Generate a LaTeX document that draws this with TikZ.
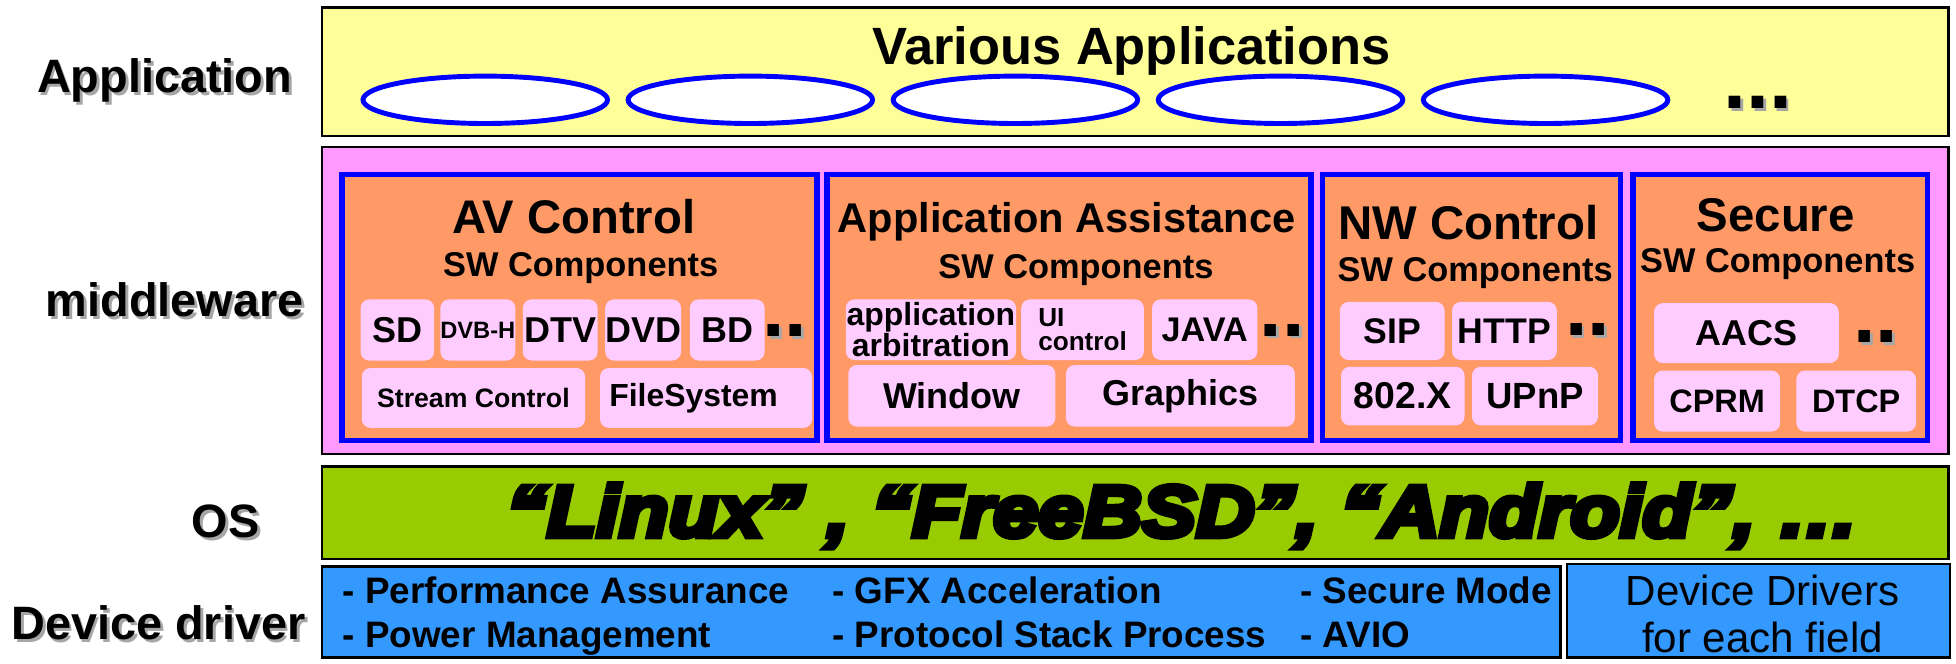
\documentclass[tikz,border=0pt]{standalone}
\usepackage{fontspec}
\setmainfont{Liberation Sans}
\newfontfamily\osfont{Liberation Sans Bold Italic}[FakeBold=8,FakeStretch=1.12]
\usepackage{tikz}
\usetikzlibrary{shapes,positioning}
\definecolor{appyellow}{HTML}{FFFF99}
\definecolor{midpink}{HTML}{FF99FF}
\definecolor{suborange}{HTML}{FF9966}
\definecolor{comppink}{HTML}{FFCCFF}
\definecolor{osgreen}{HTML}{99CC00}
\definecolor{drvblue}{HTML}{3399FF}
\newcommand{\fsz}[1]{\fontsize{#1}{#1}\selectfont}
\newcommand{\shadowtext}[1]{\makebox[0pt][l]{\hspace{1.6pt}\raisebox{-1.6pt}[0pt][0pt]{\color{black!35}#1}}#1}
\tikzset{
    sz/.style 2 args={
        minimum width=#1*0.025cm,
        minimum height=#2*0.025cm,
    },
    tier/.style={
        rectangle,
        draw=black,
        line width=1.4pt,
        inner sep=0pt,
        outer sep=0pt,
    },
    group/.style={
        rectangle,
        draw=blue,
        line width=3.2pt,
        fill=suborange,
        inner sep=0pt,
        outer sep=0pt,
    },
    comp/.style={
        rectangle,
        rounded corners=5pt,
        fill=comppink,
        inner sep=0pt,
        outer sep=0pt,
        align=center,
        font=\fsz{20.5}\bfseries,
    },
    appoval/.style={
        ellipse,
        draw=blue,
        line width=2.8pt,
        fill=white,
        inner sep=0pt,
        sz={196}{38},
    },
    txt/.style={
        inner sep=0pt,
        anchor=base,
        font=\bfseries,
    },
    lbl/.style={
        txt,
        font=\fsz{26.7}\bfseries,
    },
    dotmark/.style={
        inner sep=0pt,
        font=\fsz{46}\bfseries,
    },
    item/.style={
        inner sep=0pt,
        anchor=base west,
        font=\fsz{21}\bfseries,
    },
}
\begin{document}
\begin{tikzpicture}[x=0.025cm,y=-0.025cm]
	    \useasboundingbox (0,0) rectangle (1568,531.5);
	    % layers
	    \node [tier,fill=appyellow,sz={1304}{103}] (app) at (910,57.5) {};
	    \node [tier,fill=midpink,sz={1304}{246}] (mid) at (910,241) {};
	    \node [tier,fill=osgreen,sz={1304}{74}] (os) at (910,411) {};
	    \node [tier,fill=drvblue,sz={993}{73}] (drv) at (754.5,490.5) {};
	    \node [tier,fill=drvblue,sz={307}{75}] (drvall) at (1409.5,489.5) {};
	    % layer names
	    \node [lbl] (lapp) at (132,74) {\shadowtext{Application}};
	    \node [lbl] (lmid) at (140,253.8) {\shadowtext{middleware}};
	    \node [lbl] (los) at (181,431) {\shadowtext{OS}};
	    \node [lbl] (ldrv) at (127,513) {\shadowtext{Device driver}};
	    % application
	    \node [txt,font=\fsz{29.9}\bfseries] (various) at (907,52) {Various Applications};
	    \node [appoval] (a1) at (389,80) {};
	    \node [appoval] (a2) at (601.5,80) {};
	    \node [appoval] (a3) at (814,80) {};
	    \node [appoval] (a4) at (1026.5,80) {};
	    \node [appoval] (a5) at (1239,80) {};
	    \node [txt,font=\fsz{47}\bfseries] (amore) at (1409,86.8) {\shadowtext{...}};
	    % middleware groups
	    \node [group,sz={381}{213}] (av) at (464.5,246.5) {};
	    \node [group,sz={388}{213}] (aa) at (857,246.5) {};
	    \node [group,sz={239}{213}] (nw) at (1179.5,246.5) {};
	    \node [group,sz={236}{213}] (sec) at (1427,246.5) {};
	    \node [txt,font=\fsz{26.9}\bfseries] (tav) at (460,187) {AV Control};
	    \node [txt,font=\fsz{19.6}\bfseries] (swav) at (465.5,222) {SW Components};
	    \node [txt,font=\fsz{23.7}\bfseries] (taa) at (855,186) {Application Assistance};
	    \node [txt,font=\fsz{19.6}\bfseries] (swaa) at (862.5,223) {SW Components};
	    \node [txt,font=\fsz{27}\bfseries] (tnw) at (1177,192) {NW Control};
	    \node [txt,font=\fsz{19.6}\bfseries] (swnw) at (1182.5,225.6) {SW Components};
	    \node [txt,font=\fsz{27}\bfseries] (tsec) at (1423.5,185.7) {Secure};
	    \node [txt,font=\fsz{19.6}\bfseries] (swsec) at (1425,218.7) {SW Components};
	    % AV Control
	    \node [comp,sz={59}{49}] (sd) at (318.5,264.5) {SD};
	    \node [comp,sz={60}{49},font=\fsz{13.5}\bfseries] (dvbh) [right=0.125cm of sd] {DVB-H};
	    \node [comp,sz={60}{49}] (dtv) [right=0.15cm of dvbh] {DTV};
	    \node [comp,sz={60}{49}] (dvd) [right=0.15cm of dtv] {DVD};
	    \node [comp,sz={60}{49}] (bd) [right=0.175cm of dvd] {BD};
	    \node [dotmark] (avdots) at (629,265) {\shadowtext{..}};
	    \node [comp,sz={179}{48},font=\fsz{15.2}\bfseries] (stream) at (379.5,319) {Stream Control};
	    \node [comp,sz={170}{48},font=\fsz{18.2}\bfseries] (fs) [right=0.3cm of stream] {FileSystem\hspace*{0.5cm}};
	    % Application Assistance
	    \node [comp,sz={136.5}{48.6},font=\fontsize{18.2}{15.9}\selectfont\bfseries] (arb) at (746.25,264.3) {application\\arbitration};
	    \node [comp,sz={98.4}{48.6},align=left,font=\fontsize{14.9}{14}\selectfont\bfseries] (uictl) at (867.8,264.3) {UI\\control};
	    \node [comp,sz={84.5}{48.6},font=\fsz{19.5}\bfseries] (java) at (965.75,264.3) {JAVA};
	    \node [dotmark] (aadots) at (1028,264.6) {\shadowtext{..}};
	    \node [comp,sz={166}{49.4}] (window) at (763,317.3) {Window};
	    \node [comp,sz={183.5}{49.4}] (graphics) at (946.25,317.3) {Graphics};
	    % NW Control
	    \node [comp,sz={84}{46.6},font=\fsz{20.3}\bfseries] (sip) at (1116,265.3) {SIP};
	    \node [comp,sz={84}{46.6},font=\fsz{20.3}\bfseries] (http) at (1206,265.3) {HTTP};
	    \node [dotmark] (nwdots) at (1272.6,264.5) {\shadowtext{..}};
	    \node [comp,sz={99}{47},font=\fsz{21.3}\bfseries] (x802) at (1124.5,317.5) {802.X};
	    \node [comp,sz={101}{47},font=\fsz{20.8}\bfseries] (upnp) at (1230.5,317.5) {UPnP};
	    % Secure
	    \node [comp,sz={148}{48}] (aacs) at (1400,267) {AACS};
	    \node [dotmark] (secdots) at (1503.7,270) {\shadowtext{..}};
	    \node [comp,sz={101}{49},font=\fsz{18.5}\bfseries] (cprm) at (1376.5,321.5) {CPRM};
	    \node [comp,sz={96}{49},font=\fsz{18.5}\bfseries] (dtcp) at (1488,321.5) {DTCP};
	    % OS
	    \node [txt,font=\fsz{41.3}\osfont] (oslist) at (948,430) {“Linux” , “FreeBSD”, “Android”, …};
	    % device drivers
	    \node [item] (perf) at (274.5,484) {- Performance Assurance};
	    \node [item] (power) at (274.5,519) {- Power Management};
	    \node [item] (gfx) at (667,484) {- GFX Acceleration};
	    \node [item] (proto) at (667,519) {- Protocol Stack Process};
	    \node [item] (secmode) at (1042,484) {- Secure Mode};
	    \node [item] (avio) at (1042,519) {- AVIO};
	    \node [inner sep=0pt,align=center,font=\fontsize{24}{26.3}\selectfont] (each) at (1413,492.2) {Device Drivers\\for each field};
	\end{tikzpicture}
\end{document}
